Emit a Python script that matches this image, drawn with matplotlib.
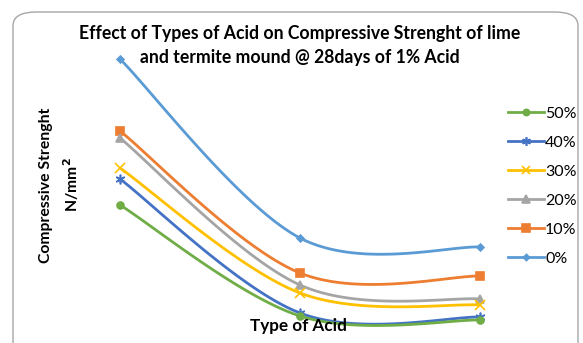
import numpy as np
import matplotlib.pyplot as plt
from matplotlib.patches import FancyBboxPatch
from matplotlib.lines import Line2D

plt.rcParams['font.family'] = ['Lato', 'DejaVu Sans']

# acid types (positions on the x axis) and strength per acid percentage
acid_types = [1, 2, 3]
series = ['0%', '10%', '20%', '30%', '40%', '50%']
s0 = [5.42, 1.84, 1.66]
s10 = [3.98, 1.14, 1.08]
s20 = [3.84, 0.90, 0.62]
s30 = [3.24, 0.74, 0.50]
s40 = [3.02, 0.34, 0.26]
s50 = [2.50, 0.28, 0.20]
values = [s0, s10, s20, s30, s40, s50]

colors = ['#5B9BD5', '#ED7D31', '#A5A5A5', '#FFC000', '#4472C4', '#70AD47']
markers = ['D', 's', '^', 'x', (6, 2, 0), 'o']
msizes = [3.5, 6, 6, 7, 7, 5]


def smooth(x, y, n=60):
    # bezier smoothing like spreadsheet "smoothed line" charts
    p = np.column_stack([x, y]).astype(float)
    pts = np.vstack([p[0], p, p[-1]])
    out = []
    t = np.linspace(0, 1, n)[:, None]
    for i in range(1, len(pts) - 2):
        a, b = pts[i], pts[i + 1]
        c1 = a + (pts[i + 1] - pts[i - 1]) / 6
        c2 = b - (pts[i + 2] - pts[i]) / 6
        seg = ((1 - t) ** 3) * a + 3 * ((1 - t) ** 2) * t * c1 + 3 * (1 - t) * t ** 2 * c2 + t ** 3 * b
        out.append(seg)
    out = np.vstack(out)
    return out[:, 0], out[:, 1]


W, H = 583, 343
fig = plt.figure(figsize=(W / 100, H / 100), dpi=100)

# chart border with rounded corners, cut off at the bottom
border = FancyBboxPatch((13 / W, (H - 380) / H), 565 / W, 368 / H,
                        boxstyle='round,pad=0,rounding_size=0.04',
                        transform=fig.transFigure, fc='none', ec='#A6A6A6', lw=1.0,
                        zorder=-1)
fig.patches.append(border)

ax = fig.add_axes([30 / W, 13 / H, 540 / W, 300 / H])
ax.set_xlim(0.5, 3.5)
ax.set_ylim(0, 6)
ax.axis('off')

for name, v, c, m, ms in zip(series, values, colors, markers, msizes):
    xs, ys = smooth(acid_types, v)
    ax.plot(xs, ys, color=c, lw=2, solid_capstyle='round')
    ax.plot(acid_types, v, ls='none', marker=m, color=c, ms=ms, mew=1.2)

handles = [Line2D([0], [0], color=c, lw=2, marker=m, ms=ms * 0.9, mew=1.2)
           for c, m, ms in zip(colors, markers, msizes)]
fig.legend(handles[::-1], series[::-1], loc='center left',
           bbox_to_anchor=(494 / W, 1 - 186 / H), frameon=False,
           fontsize=11.5, handlelength=2.2, handletextpad=0.1, labelspacing=0.93)

fig.text(300 / W, 1 - 34 / H, 'Effect of Types of Acid on Compressive Strenght of lime',
         ha='center', va='center', fontsize=12.7, fontweight='bold')
fig.text(300 / W, 1 - 58 / H, 'and termite mound @ 28days of 1% Acid',
         ha='center', va='center', fontsize=12.7, fontweight='bold')

fig.text(46 / W, 1 - 185 / H, 'Compressive Strenght', rotation=90,
         ha='center', va='center', fontsize=11.3, fontweight='bold')
fig.text(71 / W, 1 - 185 / H, 'N/mm$^\\mathbf{2}$', rotation=90,
         ha='center', va='center', fontsize=11.3, fontweight='bold')

fig.text(298 / W, 1 - 326 / H, 'Type of Acid', ha='center', va='center',
         fontsize=12.3, fontweight='bold')

fig.savefig('out.png', dpi=100)
